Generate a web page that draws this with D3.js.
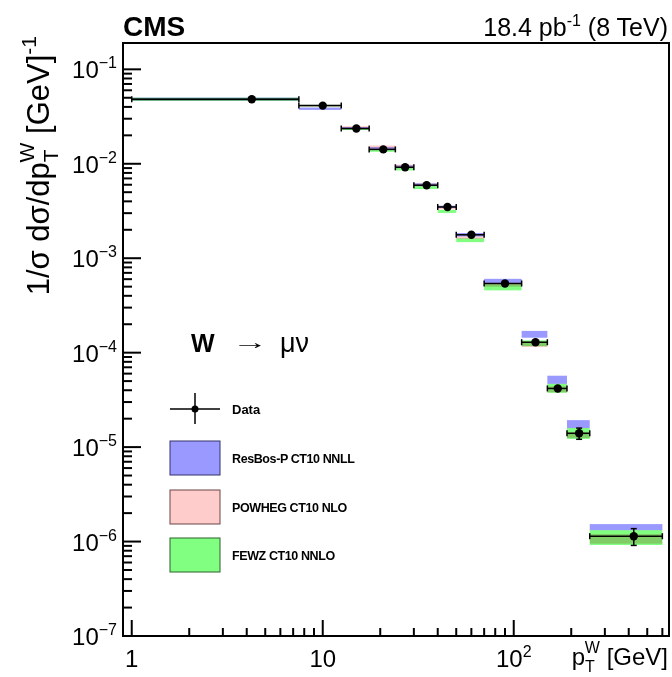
<!DOCTYPE html>
<meta charset="utf-8">
<head>
  <script src="https://d3js.org/d3.v7.min.js"></script>
  <style>
    body { margin: 0; background: white; }
    text { font-family: "Liberation Sans", Arial, Helvetica, sans-serif; }
  </style>
</head>
<body>
  <div id="chart"></div>
  <script>
    // bins in pT (GeV)
    var binLo = [1, 7.5, 12.5, 17.5, 24, 30, 40, 50, 70, 110, 150, 190, 250];
    var binHi = [7.5, 12.5, 17.5, 24, 30, 40, 50, 70, 110, 150, 190, 250, 600];
    var ptCenter = [4.25, 10, 15, 20.75, 27, 35, 45, 60, 90, 130, 170, 220, 425];

    // measured 1/sigma dsigma/dpT and its error
    var dataVal = [0.0482, 0.0413, 0.0236, 0.0142, 0.00918, 0.00593, 0.00349, 0.00177, 0.00054, 0.000129, 4.18e-5, 1.4e-5, 1.14e-6];
    var dataErr = [0.0005, 0.0005, 0.0003, 0.0002, 0.00012, 0.00008, 0.00005, 0.00003, 0.00001, 3e-6, 1.5e-6, 1.9e-6, 2.3e-7];

    // model bands [low, high]
    var resbosLo = [0.0466, 0.0372, 0.0232, 0.0140, 0.0090, 0.0058, 0.00340, 0.00170, 0.00054, 1.44e-4, 4.68e-5, 1.59e-5, 1.32e-6];
    var resbosHi = [0.0502, 0.0394, 0.0245, 0.0150, 0.0096, 0.0062, 0.00360, 0.00185, 0.000605, 1.70e-4, 5.7e-5, 1.93e-5, 1.53e-6];
    var powhegLo = [0.0470, 0.0405, 0.0238, 0.0145, 0.0092, 0.0058, 0.0033, 0.00160, 0.00050, 1.15e-4, 3.8e-5, 1.25e-5, 9.5e-7];
    var powhegHi = [0.0490, 0.0418, 0.0250, 0.0156, 0.0098, 0.0062, 0.0035, 0.00170, 0.00054, 1.30e-4, 4.4e-5, 1.45e-5, 1.2e-6];
    var fewzLo = [0.0464, 0.0405, 0.0228, 0.0134, 0.0085, 0.0054, 0.00302, 0.00148, 0.000457, 1.17e-4, 3.76e-5, 1.22e-5, 9.2e-7];
    var fewzHi = [0.0500, 0.0420, 0.0236, 0.0140, 0.0090, 0.0058, 0.00325, 0.00162, 0.000531, 1.35e-4, 4.68e-5, 1.59e-5, 1.32e-6];

    var models = [
      { name: "ResBos-P CT10 NNLL", lo: resbosLo, hi: resbosHi, fill: "#9999ff", stroke: "#33336b" },
      { name: "POWHEG CT10 NLO", lo: powhegLo, hi: powhegHi, fill: "#ffcccc", stroke: "#6b4444" },
      { name: "FEWZ CT10 NNLO", lo: fewzLo, hi: fewzHi, fill: "#80ff80", stroke: "#2f5f2f" }
    ];

    var yMajor = [-7, -6, -5, -4, -3, -2, -1];
    var xMajor = [1, 10, 100];
    var xLabels = ["1", "10", "10"];
    var xLabelExp = ["", "", "2"];

    var W = 672, H = 677;
    var padL = 123, padR = 669, padT = 43, padB = 636;

    var svg = d3.select("#chart").append("svg")
      .attr("width", W).attr("height", H);

    var x = d3.scaleLog().domain([0.9, 650]).range([padL, padR]);
    var y = d3.scaleLog().domain([1e-7, 0.19]).range([padB, padT]);

    // ticks
    var yMinor = [];
    for (var k = -7; k <= -1; k++) {
      for (var m = 2; m <= 9; m++) {
        var v = m * Math.pow(10, k);
        if (v < 0.19) yMinor.push(v);
      }
    }
    var xMinor = [];
    [0.1, 1, 10, 100].forEach(function (d) {
      for (var m = 2; m <= 9; m++) {
        var v = m * d;
        if (v > 0.9 && v < 650) xMinor.push(v);
      }
    });
    var ax = svg.append("g").attr("stroke", "black").attr("stroke-width", 2);
    yMajor.forEach(function (e) {
      var yy = y(Math.pow(10, e));
      ax.append("line").attr("x1", padL).attr("x2", padL + 18).attr("y1", yy).attr("y2", yy);
    });
    yMinor.forEach(function (v) {
      ax.append("line").attr("x1", padL).attr("x2", padL + 9).attr("y1", y(v)).attr("y2", y(v));
    });
    xMajor.forEach(function (v) {
      ax.append("line").attr("x1", x(v)).attr("x2", x(v)).attr("y1", padB).attr("y2", padB - 16);
    });
    xMinor.forEach(function (v) {
      ax.append("line").attr("x1", x(v)).attr("x2", x(v)).attr("y1", padB).attr("y2", padB - 8);
    });

    // model bands
    var bands = svg.append("g");
    models.forEach(function (md) {
      bands.append("g").style("mix-blend-mode", "multiply")
        .selectAll("rect").data(d3.range(binLo.length)).enter().append("rect")
        .attr("x", function (i) { return x(binLo[i]); })
        .attr("width", function (i) { return x(binHi[i]) - x(binLo[i]); })
        .attr("y", function (i) { return y(md.hi[i]); })
        .attr("height", function (i) { return Math.max(1.5, y(md.lo[i]) - y(md.hi[i])); })
        .attr("fill", md.fill);
    });

    // data points
    var pts = svg.append("g").attr("stroke", "black").attr("stroke-width", 1.5);
    d3.range(dataVal.length).forEach(function (i) {
      var cy = y(dataVal[i]);
      pts.append("line").attr("x1", x(binLo[i])).attr("x2", x(binHi[i])).attr("y1", cy).attr("y2", cy);
      pts.append("line").attr("x1", x(binLo[i])).attr("x2", x(binLo[i])).attr("y1", cy - 3).attr("y2", cy + 3);
      pts.append("line").attr("x1", x(binHi[i])).attr("x2", x(binHi[i])).attr("y1", cy - 3).attr("y2", cy + 3);
      var eTop = y(dataVal[i] + dataErr[i]), eBot = y(dataVal[i] - dataErr[i]);
      pts.append("line").attr("x1", x(ptCenter[i])).attr("x2", x(ptCenter[i])).attr("y1", eTop).attr("y2", eBot);
      if (eBot - eTop > 6) {
        pts.append("line").attr("x1", x(ptCenter[i]) - 3).attr("x2", x(ptCenter[i]) + 3).attr("y1", eTop).attr("y2", eTop);
        pts.append("line").attr("x1", x(ptCenter[i]) - 3).attr("x2", x(ptCenter[i]) + 3).attr("y1", eBot).attr("y2", eBot);
      }
      pts.append("circle").attr("cx", x(ptCenter[i])).attr("cy", cy).attr("r", 4.2)
        .attr("fill", "black").attr("stroke", "none");
    });

    // frame
    svg.append("rect").attr("x", padL).attr("y", padT)
      .attr("width", padR - padL).attr("height", padB - padT)
      .attr("fill", "none").attr("stroke", "black").attr("stroke-width", 2);

    // y labels
    yMajor.forEach(function (e) {
      var t = svg.append("text").attr("x", 117).attr("y", y(Math.pow(10, e)) + 9)
        .attr("text-anchor", "end").attr("font-size", 24);
      t.append("tspan").text("10");
      t.append("tspan").attr("dy", -10).attr("font-size", 16).text("\u2212" + (-e));
    });
    // x labels
    xMajor.forEach(function (v, i) {
      var t = svg.append("text").attr("x", x(v)).attr("y", 667)
        .attr("text-anchor", "middle").attr("font-size", 24);
      t.append("tspan").text(xLabels[i]);
      if (xLabelExp[i]) t.append("tspan").attr("dy", -10).attr("font-size", 16).text(xLabelExp[i]);
    });

    // axis titles
    var xt = svg.append("text").attr("x", 668).attr("y", 665)
      .attr("text-anchor", "end").attr("font-size", 24);
    xt.append("tspan").text("p");
    xt.append("tspan").attr("dy", 7).attr("font-size", 16).text("T");
    xt.append("tspan").attr("dx", -10).attr("dy", -19).attr("font-size", 16).text("W");
    xt.append("tspan").attr("dy", 12).text(" [GeV]");

    var yt = svg.append("text").attr("transform", "translate(49,36) rotate(-90)")
      .attr("text-anchor", "end").attr("font-size", 31);
    yt.append("tspan").text("1/\u03c3 d\u03c3/dp");
    yt.append("tspan").attr("dy", 9).attr("font-size", 21).text("T");
    yt.append("tspan").attr("dx", -13).attr("dy", -24).attr("font-size", 21).text("W");
    yt.append("tspan").attr("dy", 15).text(" [GeV]");
    yt.append("tspan").attr("dy", -13).attr("font-size", 21).text("-1");

    // header
    svg.append("text").attr("x", 123).attr("y", 36).attr("font-size", 28)
      .attr("font-weight", "bold").text("CMS");
    var lumi = svg.append("text").attr("x", 668).attr("y", 36)
      .attr("text-anchor", "end").attr("font-size", 25);
    lumi.append("tspan").text("18.4 pb");
    lumi.append("tspan").attr("dy", -10).attr("font-size", 16).text("-1");
    lumi.append("tspan").attr("dy", 10).text(" (8 TeV)");

    // process label
    svg.append("text").attr("x", 191).attr("y", 352).attr("font-size", 25)
      .attr("font-weight", "bold").text("W");
    svg.append("text").attr("x", 232).attr("y", 349).attr("font-size", 20)
      .attr("font-family", "DejaVu Sans").attr("transform", "translate(232,0) scale(1.8,1) translate(-232,0)")
      .text("\u2192");
    svg.append("text").attr("x", 280).attr("y", 352).attr("font-size", 27)
      .attr("font-family", "DejaVu Serif, Liberation Serif, serif").text("\u03bc\u03bd");

    // legend
    var lg = svg.append("g");
    lg.append("line").attr("x1", 170).attr("x2", 220).attr("y1", 409).attr("y2", 409)
      .attr("stroke", "black").attr("stroke-width", 1.5);
    lg.append("line").attr("x1", 195).attr("x2", 195).attr("y1", 393).attr("y2", 424)
      .attr("stroke", "black").attr("stroke-width", 1.5);
    lg.append("circle").attr("cx", 195).attr("cy", 409).attr("r", 3.5).attr("fill", "black");
    lg.append("text").attr("x", 232).attr("y", 414).attr("font-size", 13)
      .attr("font-weight", "bold").text("Data");
    var legY = [441, 490, 538];
    models.forEach(function (md, i) {
      lg.append("rect").attr("x", 170).attr("y", legY[i]).attr("width", 50).attr("height", 34)
        .attr("fill", md.fill).attr("stroke", md.stroke).attr("stroke-width", 1);
      lg.append("text").attr("x", 232).attr("y", legY[i] + 22).attr("font-size", 12.5)
        .attr("font-weight", "bold").attr("letter-spacing", -0.4).text(md.name);
    });
  </script>
</body>
</html>
